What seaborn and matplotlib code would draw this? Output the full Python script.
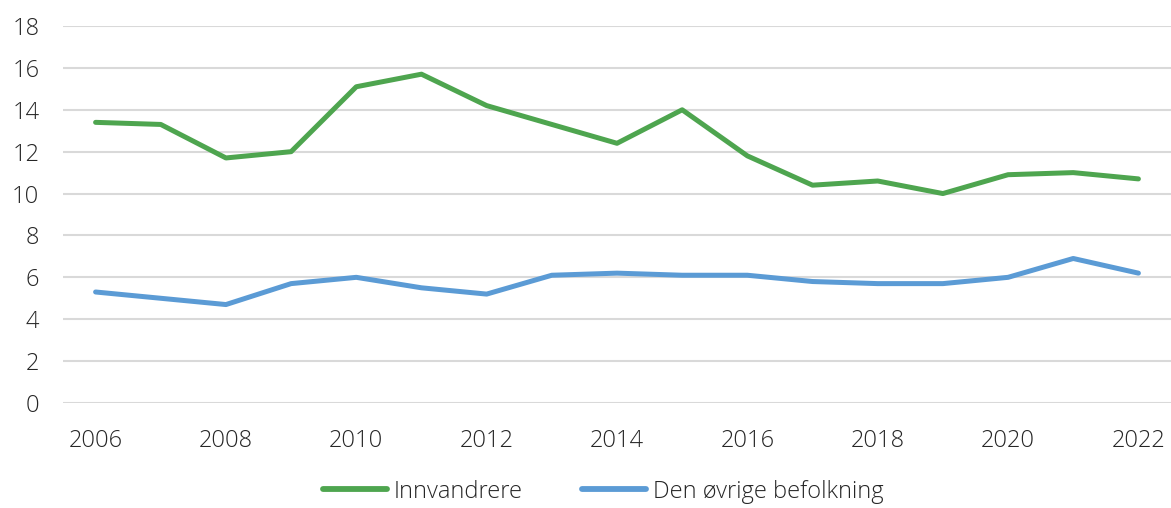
import numpy as np
import pandas as pd
import matplotlib
matplotlib.use('Agg')
import matplotlib.pyplot as plt
import seaborn as sns

# ── data ─────────────────────────────────────────────
YEARS = list(range(2006, 2023))
INNVANDRERE = [13.4, 13.3, 11.7, 12.0, 15.1, 15.7, 14.2, 13.3, 12.4, 14.0,
               11.8, 10.4, 10.6, 10.0, 10.9, 11.0, 10.7]
OVRIGE = [5.3, 5.0, 4.7, 5.7, 6.0, 5.5, 5.2, 6.1, 6.2, 6.1,
          6.1, 5.8, 5.7, 5.7, 6.0, 6.9, 6.2]
SERIES = ['Innvandrere', 'Den øvrige befolkning']
COLORS = ['#4EA54F', '#5B9BD5']
Y_TICKS = list(range(0, 19, 2))
X_TICKS = list(range(2006, 2023, 2))

df = pd.DataFrame({
    'år': YEARS * 2,
    'verdi': INNVANDRERE + OVRIGE,
    'gruppe': [SERIES[0]] * len(YEARS) + [SERIES[1]] * len(YEARS),
})

sns.set_style('white')
plt.rcParams['font.family'] = ['Open Sans', 'DejaVu Sans']

fig = plt.figure(figsize=(11.71, 5.08), dpi=100)
ax = fig.add_axes([0.0538, 0.2067, 0.9462, 0.7421])

sns.lineplot(data=df, x='år', y='verdi', hue='gruppe', hue_order=SERIES,
             palette=COLORS, linewidth=3.6, ax=ax, legend=False,
             solid_capstyle='round')

ax.set_xlim(2005.5, 2022.5)
ax.set_ylim(0, 18)
ax.set_yticks(Y_TICKS)
ax.set_xticks(X_TICKS)
ax.set_yticklabels([str(v) for v in Y_TICKS], fontsize=17, color='#262626',
                   fontweight='light')
ax.set_xticklabels([str(v) for v in X_TICKS], fontsize=17, color='#262626',
                   fontweight='light')
ax.tick_params(axis='both', length=0)
ax.tick_params(axis='y', pad=17)
ax.tick_params(axis='x', pad=19)
ax.set_xlabel('')
ax.set_ylabel('')
ax.grid(axis='y', color='#D9D9D9', linewidth=1.5)
ax.set_axisbelow(True)
for s in ax.spines.values():
    s.set_visible(False)

handles = [plt.Line2D([], [], color=c, linewidth=4.2, solid_capstyle='round')
           for c in COLORS]
leg = fig.legend(handles, SERIES, loc='center', bbox_to_anchor=(0.515, 0.032),
                 ncol=2, frameon=False, fontsize=17, handlelength=2.7,
                 handletextpad=0.3, columnspacing=2.5)
for t in leg.get_texts():
    t.set_color('#262626')
    t.set_fontweight('light')

fig.savefig('out.png', dpi=100)
plt.close()
